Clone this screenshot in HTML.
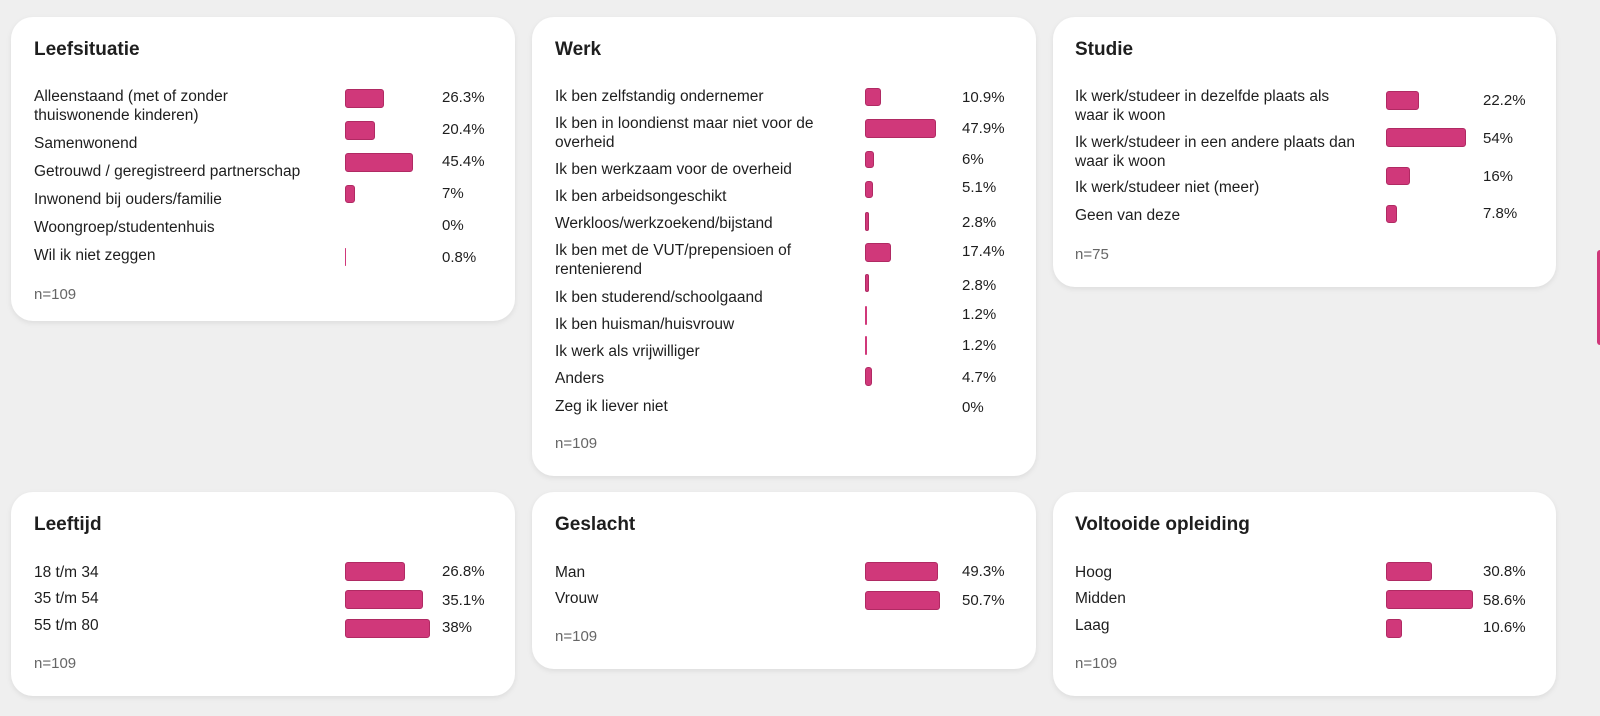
<!DOCTYPE html>
<html><head><meta charset="utf-8"><style>
body{margin:0;width:1600px;height:716px;background:#efefef;font-family:"Liberation Sans",sans-serif;position:relative;overflow:hidden;color:#1e1e1e}
.c{position:absolute;background:#fff;border-radius:22px;box-shadow:0 2px 6px rgba(0,0,0,.08)}
.t{position:absolute;font-weight:bold;font-size:19px;line-height:20px}
.l{position:absolute;font-size:15.5px;line-height:19px;white-space:nowrap}
.v{position:absolute;font-size:15px;line-height:18px}
.n{position:absolute;font-size:15px;line-height:18px;color:#666}
.b{position:absolute;background:#d0387a;border:1px solid #b02a63;border-radius:3px;box-sizing:border-box}
</style></head><body>
<div class="c" style="left:11px;top:17px;width:504px;height:304px"></div>
<div class="c" style="left:532px;top:17px;width:504px;height:459px"></div>
<div class="c" style="left:1053px;top:17px;width:503px;height:270px"></div>
<div class="c" style="left:11px;top:492px;width:504px;height:204px"></div>
<div class="c" style="left:532px;top:492px;width:504px;height:177px"></div>
<div class="c" style="left:1053px;top:492px;width:503px;height:204px"></div>
<div style="position:absolute;left:1597px;top:250px;width:6px;height:95px;background:#d0387a;border-radius:3px"></div>

<!-- Card 1 -->
<div class="t" style="left:34px;top:40px">Leefsituatie</div>
<div class="l" style="left:34px;top:87px">Alleenstaand (met of zonder<br>thuiswonende kinderen)</div>
<div class="l" style="left:34px;top:134px">Samenwonend</div>
<div class="l" style="left:34px;top:162px">Getrouwd / geregistreerd partnerschap</div>
<div class="l" style="left:34px;top:190px">Inwonend bij ouders/familie</div>
<div class="l" style="left:34px;top:218px">Woongroep/studentenhuis</div>
<div class="l" style="left:34px;top:246px">Wil ik niet zeggen</div>
<div class="b" style="left:345px;top:89px;width:39px;height:19px"></div>
<div class="b" style="left:345px;top:121px;width:30px;height:19px"></div>
<div class="b" style="left:345px;top:153px;width:68px;height:19px"></div>
<div class="b" style="left:345px;top:185px;width:10px;height:18px"></div>
<div class="b" style="left:345px;top:248px;width:1px;height:18px;border:none"></div>
<div class="v" style="left:442px;top:89px">26.3%</div>
<div class="v" style="left:442px;top:121px">20.4%</div>
<div class="v" style="left:442px;top:153px">45.4%</div>
<div class="v" style="left:442px;top:185px">7%</div>
<div class="v" style="left:442px;top:217px">0%</div>
<div class="v" style="left:442px;top:249px">0.8%</div>
<div class="n" style="left:34px;top:286px">n=109</div>

<!-- Card 2 -->
<div class="t" style="left:555px;top:40px">Werk</div>
<div class="l" style="left:555px;top:87px">Ik ben zelfstandig ondernemer</div>
<div class="l" style="left:555px;top:114px">Ik ben in loondienst maar niet voor de<br>overheid</div>
<div class="l" style="left:555px;top:160px">Ik ben werkzaam voor de overheid</div>
<div class="l" style="left:555px;top:187px">Ik ben arbeidsongeschikt</div>
<div class="l" style="left:555px;top:214px">Werkloos/werkzoekend/bijstand</div>
<div class="l" style="left:555px;top:241px">Ik ben met de VUT/prepensioen of<br>rentenierend</div>
<div class="l" style="left:555px;top:288px">Ik ben studerend/schoolgaand</div>
<div class="l" style="left:555px;top:315px">Ik ben huisman/huisvrouw</div>
<div class="l" style="left:555px;top:342px">Ik werk als vrijwilliger</div>
<div class="l" style="left:555px;top:369px">Anders</div>
<div class="l" style="left:555px;top:397px">Zeg ik liever niet</div>
<div class="b" style="left:865px;top:88px;width:16px;height:18px"></div>
<div class="b" style="left:865px;top:119px;width:71px;height:19px"></div>
<div class="b" style="left:865px;top:151px;width:9px;height:17px"></div>
<div class="b" style="left:865px;top:181px;width:8px;height:17px"></div>
<div class="b" style="left:865px;top:212px;width:4px;height:19px"></div>
<div class="b" style="left:865px;top:243px;width:26px;height:19px"></div>
<div class="b" style="left:865px;top:274px;width:4px;height:18px"></div>
<div class="b" style="left:865px;top:306px;width:2px;height:19px;border:none"></div>
<div class="b" style="left:865px;top:336px;width:2px;height:19px;border:none"></div>
<div class="b" style="left:865px;top:367px;width:7px;height:19px"></div>
<div class="v" style="left:962px;top:89px">10.9%</div>
<div class="v" style="left:962px;top:120px">47.9%</div>
<div class="v" style="left:962px;top:151px">6%</div>
<div class="v" style="left:962px;top:179px">5.1%</div>
<div class="v" style="left:962px;top:214px">2.8%</div>
<div class="v" style="left:962px;top:243px">17.4%</div>
<div class="v" style="left:962px;top:277px">2.8%</div>
<div class="v" style="left:962px;top:306px">1.2%</div>
<div class="v" style="left:962px;top:337px">1.2%</div>
<div class="v" style="left:962px;top:369px">4.7%</div>
<div class="v" style="left:962px;top:399px">0%</div>
<div class="n" style="left:555px;top:435px">n=109</div>

<!-- Card 3 -->
<div class="t" style="left:1075px;top:40px">Studie</div>
<div class="l" style="left:1075px;top:87px">Ik werk/studeer in dezelfde plaats als<br>waar ik woon</div>
<div class="l" style="left:1075px;top:133px">Ik werk/studeer in een andere plaats dan<br>waar ik woon</div>
<div class="l" style="left:1075px;top:178px">Ik werk/studeer niet (meer)</div>
<div class="l" style="left:1075px;top:206px">Geen van deze</div>
<div class="b" style="left:1386px;top:91px;width:33px;height:19px"></div>
<div class="b" style="left:1386px;top:128px;width:80px;height:19px"></div>
<div class="b" style="left:1386px;top:167px;width:24px;height:18px"></div>
<div class="b" style="left:1386px;top:205px;width:11px;height:18px"></div>
<div class="v" style="left:1483px;top:92px">22.2%</div>
<div class="v" style="left:1483px;top:130px">54%</div>
<div class="v" style="left:1483px;top:168px">16%</div>
<div class="v" style="left:1483px;top:205px">7.8%</div>
<div class="n" style="left:1075px;top:246px">n=75</div>

<!-- Row 2 -->
<div class="t" style="left:34px;top:515px">Leeftijd</div>
<div class="l" style="left:34px;top:563px">18 t/m 34</div>
<div class="l" style="left:34px;top:589px">35 t/m 54</div>
<div class="l" style="left:34px;top:616px">55 t/m 80</div>
<div class="b" style="left:345px;top:562px;width:60px;height:19px"></div>
<div class="b" style="left:345px;top:590px;width:78px;height:19px"></div>
<div class="b" style="left:345px;top:619px;width:85px;height:19px"></div>
<div class="v" style="left:442px;top:563px">26.8%</div>
<div class="v" style="left:442px;top:592px">35.1%</div>
<div class="v" style="left:442px;top:619px">38%</div>
<div class="n" style="left:34px;top:655px">n=109</div>

<div class="t" style="left:555px;top:515px">Geslacht</div>
<div class="l" style="left:555px;top:563px">Man</div>
<div class="l" style="left:555px;top:589px">Vrouw</div>
<div class="b" style="left:865px;top:562px;width:73px;height:19px"></div>
<div class="b" style="left:865px;top:591px;width:75px;height:19px"></div>
<div class="v" style="left:962px;top:563px">49.3%</div>
<div class="v" style="left:962px;top:592px">50.7%</div>
<div class="n" style="left:555px;top:628px">n=109</div>

<div class="t" style="left:1075px;top:515px">Voltooide opleiding</div>
<div class="l" style="left:1075px;top:563px">Hoog</div>
<div class="l" style="left:1075px;top:589px">Midden</div>
<div class="l" style="left:1075px;top:616px">Laag</div>
<div class="b" style="left:1386px;top:562px;width:46px;height:19px"></div>
<div class="b" style="left:1386px;top:590px;width:87px;height:19px"></div>
<div class="b" style="left:1386px;top:619px;width:16px;height:19px"></div>
<div class="v" style="left:1483px;top:563px">30.8%</div>
<div class="v" style="left:1483px;top:592px">58.6%</div>
<div class="v" style="left:1483px;top:619px">10.6%</div>
<div class="n" style="left:1075px;top:655px">n=109</div>
</body></html>
